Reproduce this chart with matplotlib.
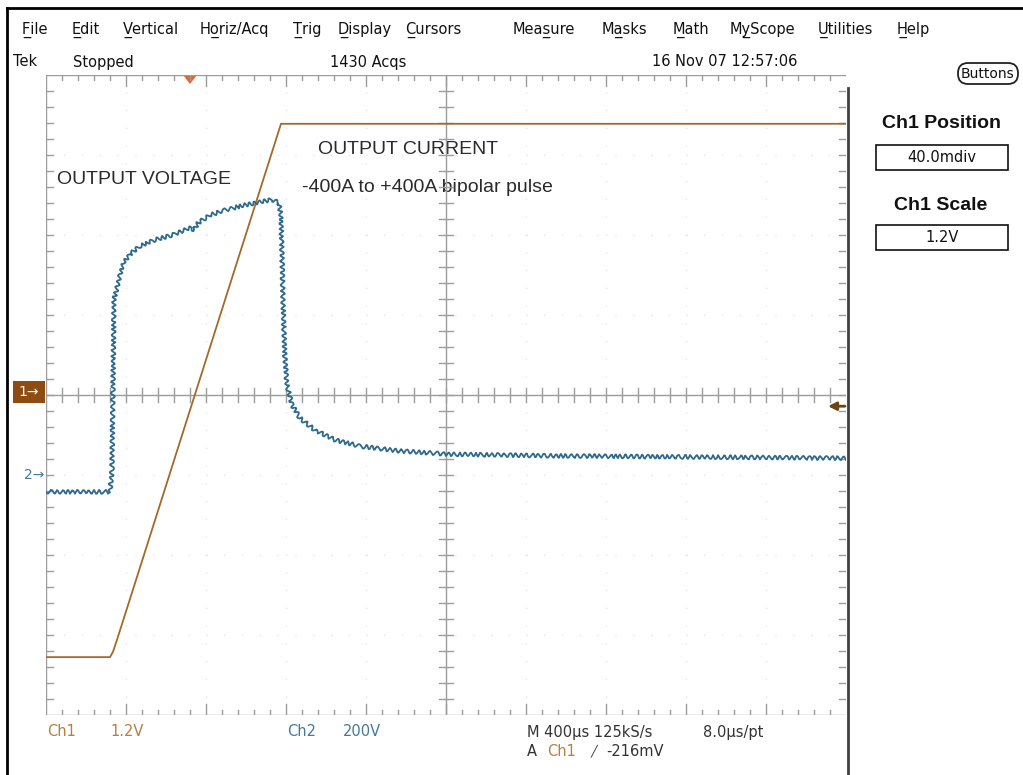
"""Tek scope screen: bipolar pulse, output current (Ch1) and output voltage (Ch2)."""

import matplotlib

matplotlib.use("Agg")
import matplotlib.pyplot as plt
import matplotlib.transforms as mtransforms
from matplotlib.patches import FancyBboxPatch, Polygon, Rectangle

W, H = 1023, 775

# scope settings
TIME_PER_DIV = 400  # us/div
CH1_SCALE = 1.2  # V/div
CH1_POS = 0.04  # div
CH2_SCALE = 200  # V/div
CH2_POS = -1.0  # div
TRIG_LEVEL = -0.216  # V on Ch1
TRIG_TIME = 720  # us

# Ch1 - output current (probe volts)
ch1_t = [0, 320, 335, 355, 1175, 4000]
ch1_v = [-3.98, -3.98, -3.90, -3.72, 4.02, 4.02]

# Ch2 - output voltage (V)
ch2_t = [0, 320, 330, 340, 355, 370, 390, 420, 470, 545, 645, 720, 740, 760,
         820, 895, 995, 1070, 1130, 1165, 1175, 1185, 1195, 1205, 1230, 1270,
         1345, 1445, 1570, 1770, 2020, 2520, 3270, 4000]
ch2_v = [-42, -42, 12, 438, 468, 502, 532, 552, 572, 588, 602, 618, 612, 630,
         650, 662, 675, 682, 688, 680, 650, 438, 288, 225, 175, 142,
         112, 88, 72, 60, 52, 48, 45, 42]

menu_items = ["F\u0332ile", "E\u0332dit", "V\u0332ertical", "Ho\u0332riz/Acq",
              "T\u0332rig", "D\u0332isplay", "C\u0332ursors", "Meas\u0332ure",
              "Ma\u0332sks", "M\u0332ath", "My\u0332Scope", "U\u0332tilities",
              "H\u0332elp"]
menu_x = [22, 72, 123, 200, 293, 338, 405, 513, 602, 673, 730, 818, 897]

CH1_COLOR = "#a26a2a"
CH1_TEXT = "#b5803e"
CH2_COLOR = "#2f6a8c"
CH2_TEXT = "#44799a"
GRAT = "#9c9c9c"

fig = plt.figure(figsize=(W / 100, H / 100), dpi=100)
fig.patch.set_facecolor("white")

# chrome layer in pixel coordinates
bg = fig.add_axes([0, 0, 1, 1])
bg.set_xlim(0, W)
bg.set_ylim(H, 0)
bg.axis("off")

bg.plot([7, W], [8, 8], color="black", lw=2)
bg.plot([7, 7], [8, H], color="black", lw=2)
bg.plot([848, 848], [88, H], color="#404040", lw=2)

for label, x in zip(menu_items, menu_x):
    bg.text(x, 30, label, fontsize=10.5, family="DejaVu Sans", va="center",
            color="#111111")

status = dict(fontsize=10.5, family="DejaVu Sans", va="center", color="#111111")
bg.text(13, 62, "Tek", **status)
bg.text(73, 62, "Stopped", **status)
bg.text(330, 62, "1430 Acqs", **status)
bg.text(652, 62, "16 Nov 07 12:57:06", **status)

# right panel
bg.add_patch(FancyBboxPatch((958, 63), 60, 21, boxstyle="round,pad=0,rounding_size=10",
                            fc="white", ec="#222222", lw=1.3))
bg.text(988, 74, "Buttons", fontsize=10, family="DejaVu Sans", ha="center",
        va="center", color="#111111")
bg.text(941, 124, "Ch1 Position", fontsize=14, family="Liberation Sans",
        weight="bold", ha="center", va="center", color="#111111")
bg.add_patch(Rectangle((876, 145), 132, 25, fc="white", ec="#111111", lw=1.2))
bg.text(942, 158, "40.0mdiv", fontsize=10.5, family="DejaVu Sans", ha="center",
        va="center", color="#111111")
bg.text(941, 205, "Ch1 Scale", fontsize=14, family="Liberation Sans",
        weight="bold", ha="center", va="center", color="#111111")
bg.add_patch(Rectangle((876, 225), 132, 25, fc="white", ec="#111111", lw=1.2))
bg.text(942, 238, "1.2V", fontsize=10.5, family="DejaVu Sans", ha="center",
        va="center", color="#111111")

# bottom readouts
bottom = dict(fontsize=10.5, family="DejaVu Sans", va="center")
bg.text(47, 732, "Ch1", color=CH1_TEXT, **bottom)
bg.text(110, 732, "1.2V", color=CH1_TEXT, **bottom)
bg.text(287, 732, "Ch2", color=CH2_TEXT, **bottom)
bg.text(343, 732, "200V", color=CH2_TEXT, **bottom)
bg.text(527, 732, "M 400\u00b5s 125kS/s", color="#333333", **bottom)
bg.text(703, 732, "8.0\u00b5s/pt", color="#333333", **bottom)
bg.text(527, 751, "A", color="#333333", **bottom)
bg.text(547, 751, "Ch1", color=CH1_TEXT, **bottom)
bg.text(590, 751, "\u2571", color="#333333", fontsize=8, family="DejaVu Sans",
        va="center")
bg.text(606, 751, "-216mV", color="#333333", **bottom)

# annotations
note = dict(fontsize=14, family="Liberation Sans", va="center", color="#2a2a2a")
bg.text(57, 180, "OUTPUT VOLTAGE", **note)
bg.text(318, 150, "OUTPUT CURRENT", **note)
bg.text(302, 187, "-400A to +400A bipolar pulse", **note)

# graticule
ax = fig.add_axes([46 / W, (H - 715) / H, 800 / W, 640 / H])
ax.set_xlim(0, 10 * TIME_PER_DIV)
ax.set_ylim(-4, 4)
ax.axis("off")

px_x = TIME_PER_DIV / 80  # us per pixel
px_y = 1 / 80  # div per pixel
xmax = 10 * TIME_PER_DIV

for i in range(1, 10):
    ax.plot([i * TIME_PER_DIV] * 2, [-4, 4], color="#dadada", lw=0.8,
            ls=(0, (1, 15)))
for j in range(-3, 4):
    ax.plot([0, xmax], [j, j], color="#dadada", lw=0.8, ls=(0, (1, 15)))

ax.plot([0, 0], [-4, 4], color=GRAT, lw=1)
ax.plot([0, xmax], [4, 4], color=GRAT, lw=1)
ax.plot([0, xmax], [-4, -4], color=GRAT, lw=1)
ax.plot([xmax / 2] * 2, [-4, 4], color=GRAT, lw=1)
ax.plot([0, xmax], [0, 0], color=GRAT, lw=1)

for k in range(1, 50):
    x = k * TIME_PER_DIV / 5
    major = k % 5 == 0
    ln = (11 if major else 5) * px_y
    ax.plot([x, x], [4, 4 - ln], color=GRAT, lw=1)
    ax.plot([x, x], [-4, -4 + ln], color=GRAT, lw=1)
    ax.plot([x, x], [-7 * px_y, 7 * px_y], color=GRAT, lw=1)
for k in range(1, 40):
    y = -4 + k / 5
    ln = 7 * px_x
    ax.plot([0, ln], [y, y], color=GRAT, lw=1)
    ax.plot([xmax - ln, xmax], [y, y], color=GRAT, lw=1)
    ax.plot([xmax / 2 - ln, xmax / 2 + ln], [y, y], color=GRAT, lw=1)

# traces
ch1_div = [v / CH1_SCALE + CH1_POS for v in ch1_v]
ch2_div = [v / CH2_SCALE + CH2_POS for v in ch2_v]
ax.plot(ch1_t, ch1_div, color=CH1_COLOR, lw=1.3, solid_joinstyle="miter")
(ln2,) = ax.plot(ch2_t, ch2_div, color=CH2_COLOR, lw=1.3)
ln2.set_sketch_params(scale=2.0, length=6, randomness=1.8)

# trigger position and level
ax.add_patch(Polygon([(TRIG_TIME - 35, 4.0), (TRIG_TIME + 35, 4.0),
                      (TRIG_TIME, 4.0 - 9 * px_y)], closed=True,
                     fc="#e8642c", ec="none", clip_on=False))
trig_div = TRIG_LEVEL / CH1_SCALE + CH1_POS
ax.annotate("", xy=(xmax - 18 * px_x, trig_div), xytext=(xmax - 1 * px_x, trig_div),
            arrowprops=dict(arrowstyle="-|>", color="#6e4416", lw=2,
                            mutation_scale=12, shrinkA=0, shrinkB=0),
            annotation_clip=False)

# channel ground markers
blend = mtransforms.blended_transform_factory(ax.transAxes, ax.transData)
ax.add_patch(Rectangle((-33 / 800, CH1_POS - 11 * px_y), 32 / 800, 22 * px_y,
                       transform=blend, fc="#8e4c12", ec="none", clip_on=False))
ax.text(-17 / 800, CH1_POS, "1\u2192", transform=blend, ha="center",
        va="center", fontsize=10, color="white", family="DejaVu Sans")
ax.text(-2 / 800, CH2_POS, "2\u2192", transform=blend, ha="right",
        va="center", fontsize=10, color=CH2_TEXT, family="DejaVu Sans")

fig.savefig("out.png", dpi=100, facecolor="white")
